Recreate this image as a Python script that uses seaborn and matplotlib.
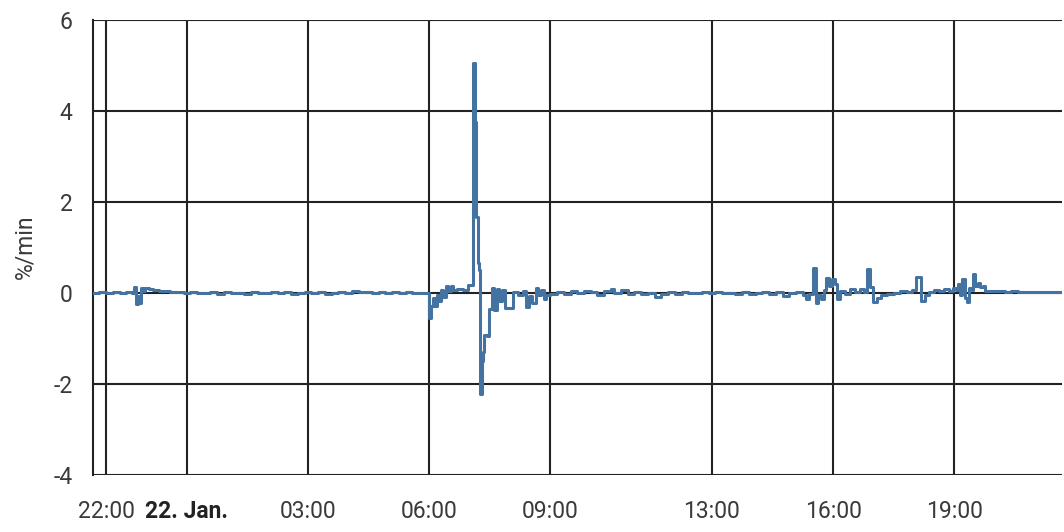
#!/usr/bin/env python3
"""Step-line chart of change rate (%/min) over one day."""

import matplotlib
matplotlib.use("Agg")
import matplotlib.pyplot as plt
import numpy as np
import pandas as pd
import seaborn as sns

# sample times (HH:MM, starting 21 Jan 21:40) and values in %/min
times = [
    "21:40", "21:50", "22:00", "22:10", "22:20", "22:30", "22:38", "22:42", "22:44", "22:47",
    "22:49", "22:52", "22:55", "22:58", "23:03", "23:10", "23:18", "23:25", "23:35", "23:45",
    "23:55", "00:05", "00:15", "00:25", "00:35", "00:45", "00:55", "01:05", "01:15", "01:25",
    "01:35", "01:45", "01:55", "02:05", "02:15", "02:25", "02:35", "02:45", "02:55", "03:05",
    "03:15", "03:25", "03:35", "03:45", "03:55", "04:05", "04:15", "04:25", "04:35", "04:45",
    "04:55", "05:05", "05:15", "05:25", "05:35", "05:45", "05:55", "06:00", "06:03", "06:06",
    "06:09", "06:12", "06:15", "06:18", "06:21", "06:25", "06:28", "06:32", "06:36", "06:42",
    "06:50", "06:57", "07:05", "07:08", "07:09", "07:12", "07:14", "07:16", "07:18", "07:20",
    "07:22", "07:26", "07:29", "07:33", "07:36", "07:40", "07:44", "07:48", "07:53", "08:05",
    "08:12", "08:20", "08:24", "08:29", "08:33", "08:38", "08:42", "08:46", "08:50", "08:54",
    "09:00", "09:10", "09:20", "09:30", "09:40", "09:50", "10:00", "10:10", "10:20", "10:30",
    "10:35", "10:45", "10:55", "11:05", "11:15", "11:25", "11:35", "11:45", "11:55", "12:05",
    "12:15", "12:25", "12:35", "12:45", "12:55", "13:05", "13:15", "13:25", "13:35", "13:45",
    "13:55", "14:05", "14:15", "14:25", "14:35", "14:45", "14:55", "15:05", "15:15", "15:20",
    "15:25", "15:30", "15:34", "15:38", "15:42", "15:46", "15:50", "15:54", "15:58", "16:03",
    "16:06", "16:10", "16:18", "16:25", "16:32", "16:40", "16:46", "16:51", "16:55", "16:59",
    "17:05", "17:12", "17:20", "17:30", "17:40", "17:50", "17:58", "18:04", "18:11", "18:16",
    "18:22", "18:30", "18:38", "18:45", "18:52", "18:58", "19:02", "19:06", "19:09", "19:12",
    "19:16", "19:19", "19:22", "19:26", "19:28", "19:31", "19:35", "19:38", "19:43", "19:46",
    "19:55", "20:05", "20:15", "20:25", "20:35", "20:45", "20:55", "21:05", "21:15", "21:25",
    "21:40",
]
rate = [
    0.00, 0.01, -0.01, 0.01, 0.00, 0.02, 0.00, 0.12, -0.25, -0.08,
    -0.22, 0.10, 0.04, 0.11, 0.07, 0.05, 0.03, 0.04, 0.01, 0.02,
    -0.01, 0.01, -0.01, 0.00, 0.01, -0.02, 0.01, -0.01, 0.00, -0.02,
    0.01, 0.00, -0.01, 0.02, -0.01, 0.01, -0.02, 0.00, 0.01, -0.01,
    0.01, -0.02, 0.00, 0.02, -0.01, 0.03, 0.01, 0.02, -0.01, 0.01,
    0.00, 0.02, -0.01, 0.01, 0.00, -0.01, 0.00, -0.56, -0.30, -0.12,
    -0.30, -0.05, -0.18, 0.05, -0.10, 0.14, 0.03, 0.15, 0.05, 0.07,
    0.05, 0.16, 5.05, 3.75, 1.67, 0.65, 0.50, -2.22, -1.50, -1.30,
    -0.92, -0.95, -0.35, 0.10, -0.38, 0.08, -0.18, 0.06, -0.33, 0.02,
    -0.05, 0.03, -0.32, -0.08, -0.22, 0.10, -0.05, 0.05, -0.15, -0.05,
    -0.02, 0.01, -0.02, 0.03, -0.01, 0.04, 0.02, -0.05, 0.03, 0.08,
    0.00, 0.05, -0.02, 0.02, -0.04, 0.00, -0.10, -0.02, 0.01, -0.02,
    0.01, 0.00, -0.01, 0.02, 0.00, 0.01, -0.01, 0.00, -0.02, 0.01,
    -0.03, 0.00, 0.01, -0.02, 0.02, -0.07, 0.00, 0.01, -0.05, -0.15,
    -0.02, 0.55, -0.22, -0.05, -0.15, 0.05, 0.33, 0.15, 0.30, 0.20,
    -0.15, 0.03, -0.03, 0.07, 0.02, 0.07, 0.02, 0.51, 0.12, -0.20,
    -0.12, -0.05, -0.02, 0.00, 0.03, 0.01, 0.05, 0.35, -0.18, -0.05,
    0.02, 0.05, 0.03, 0.08, 0.04, 0.10, 0.05, 0.18, -0.05, 0.30,
    -0.12, -0.20, 0.10, 0.05, 0.42, 0.15, 0.22, 0.12, 0.15, 0.04,
    0.03, 0.04, 0.02, 0.03, 0.02, 0.01, 0.02, 0.01, 0.01, 0.01,
    0.01,
]

start_day = "2024-01-21"
x_start, x_end = "2024-01-21 21:40", "2024-01-22 21:40"
x_ticks = ["2024-01-21 22:00", "2024-01-22 00:00", "2024-01-22 03:00", "2024-01-22 06:00",
           "2024-01-22 09:00", "2024-01-22 13:00", "2024-01-22 16:00", "2024-01-22 19:00"]
x_tick_labels = ["22:00", "22. Jan.", "03:00", "06:00", "09:00", "13:00", "16:00", "19:00"]
y_ticks = [-4, -2, 0, 2, 4, 6]

# build timestamps, rolling over to the next day when the clock wraps
stamps = []
day = pd.Timestamp(start_day)
prev = None
for t in times:
    if prev is not None and t < prev:
        day += pd.Timedelta(days=1)
    stamps.append(pd.Timestamp(f"{day.date()} {t}"))
    prev = t
df = pd.DataFrame({"time": stamps, "rate": rate})

sns.set_theme(style="white")
plt.rcParams["font.family"] = ["Roboto", "DejaVu Sans"]

grid_c = "#222222"
text_c = "#3a3a3a"

fig = plt.figure(figsize=(10.64, 5.32), dpi=100)
ax = fig.add_axes([0.0871, 0.1077, 0.9109, 0.8556])

sns.lineplot(data=df, x="time", y="rate", ax=ax, drawstyle="steps-post",
             color="#4473a2", linewidth=2.2, estimator=None, zorder=3)

ax.set_xlim(pd.Timestamp(x_start), pd.Timestamp(x_end))
ax.set_ylim(-4, 6)
ax.set_xticks(pd.to_datetime(x_ticks))
ax.set_xticklabels(x_tick_labels)
ax.set_yticks(y_ticks)
ax.set_yticklabels([str(v) for v in y_ticks])

ax.grid(True, color=grid_c, linewidth=1.5)
ax.set_axisbelow(True)
for side in ["top", "right", "bottom"]:
    ax.spines[side].set_visible(False)
ax.spines["left"].set_color(grid_c)
ax.spines["left"].set_linewidth(1.5)

ax.tick_params(axis="both", which="major", length=11.5, width=1.5, color=grid_c,
               labelsize=16.5, labelcolor=text_c, direction="out")
ax.tick_params(axis="y", pad=3)
ax.tick_params(axis="x", pad=7)
for lbl in ax.get_xticklabels():
    if lbl.get_text() == "22. Jan.":
        lbl.set_fontweight("bold")
        lbl.set_color("#222222")

ax.set_xlabel("")
ax.set_ylabel("%/min", fontsize=16.5, color=text_c, labelpad=12)

fig.savefig("out.png", dpi=100)
plt.close(fig)
